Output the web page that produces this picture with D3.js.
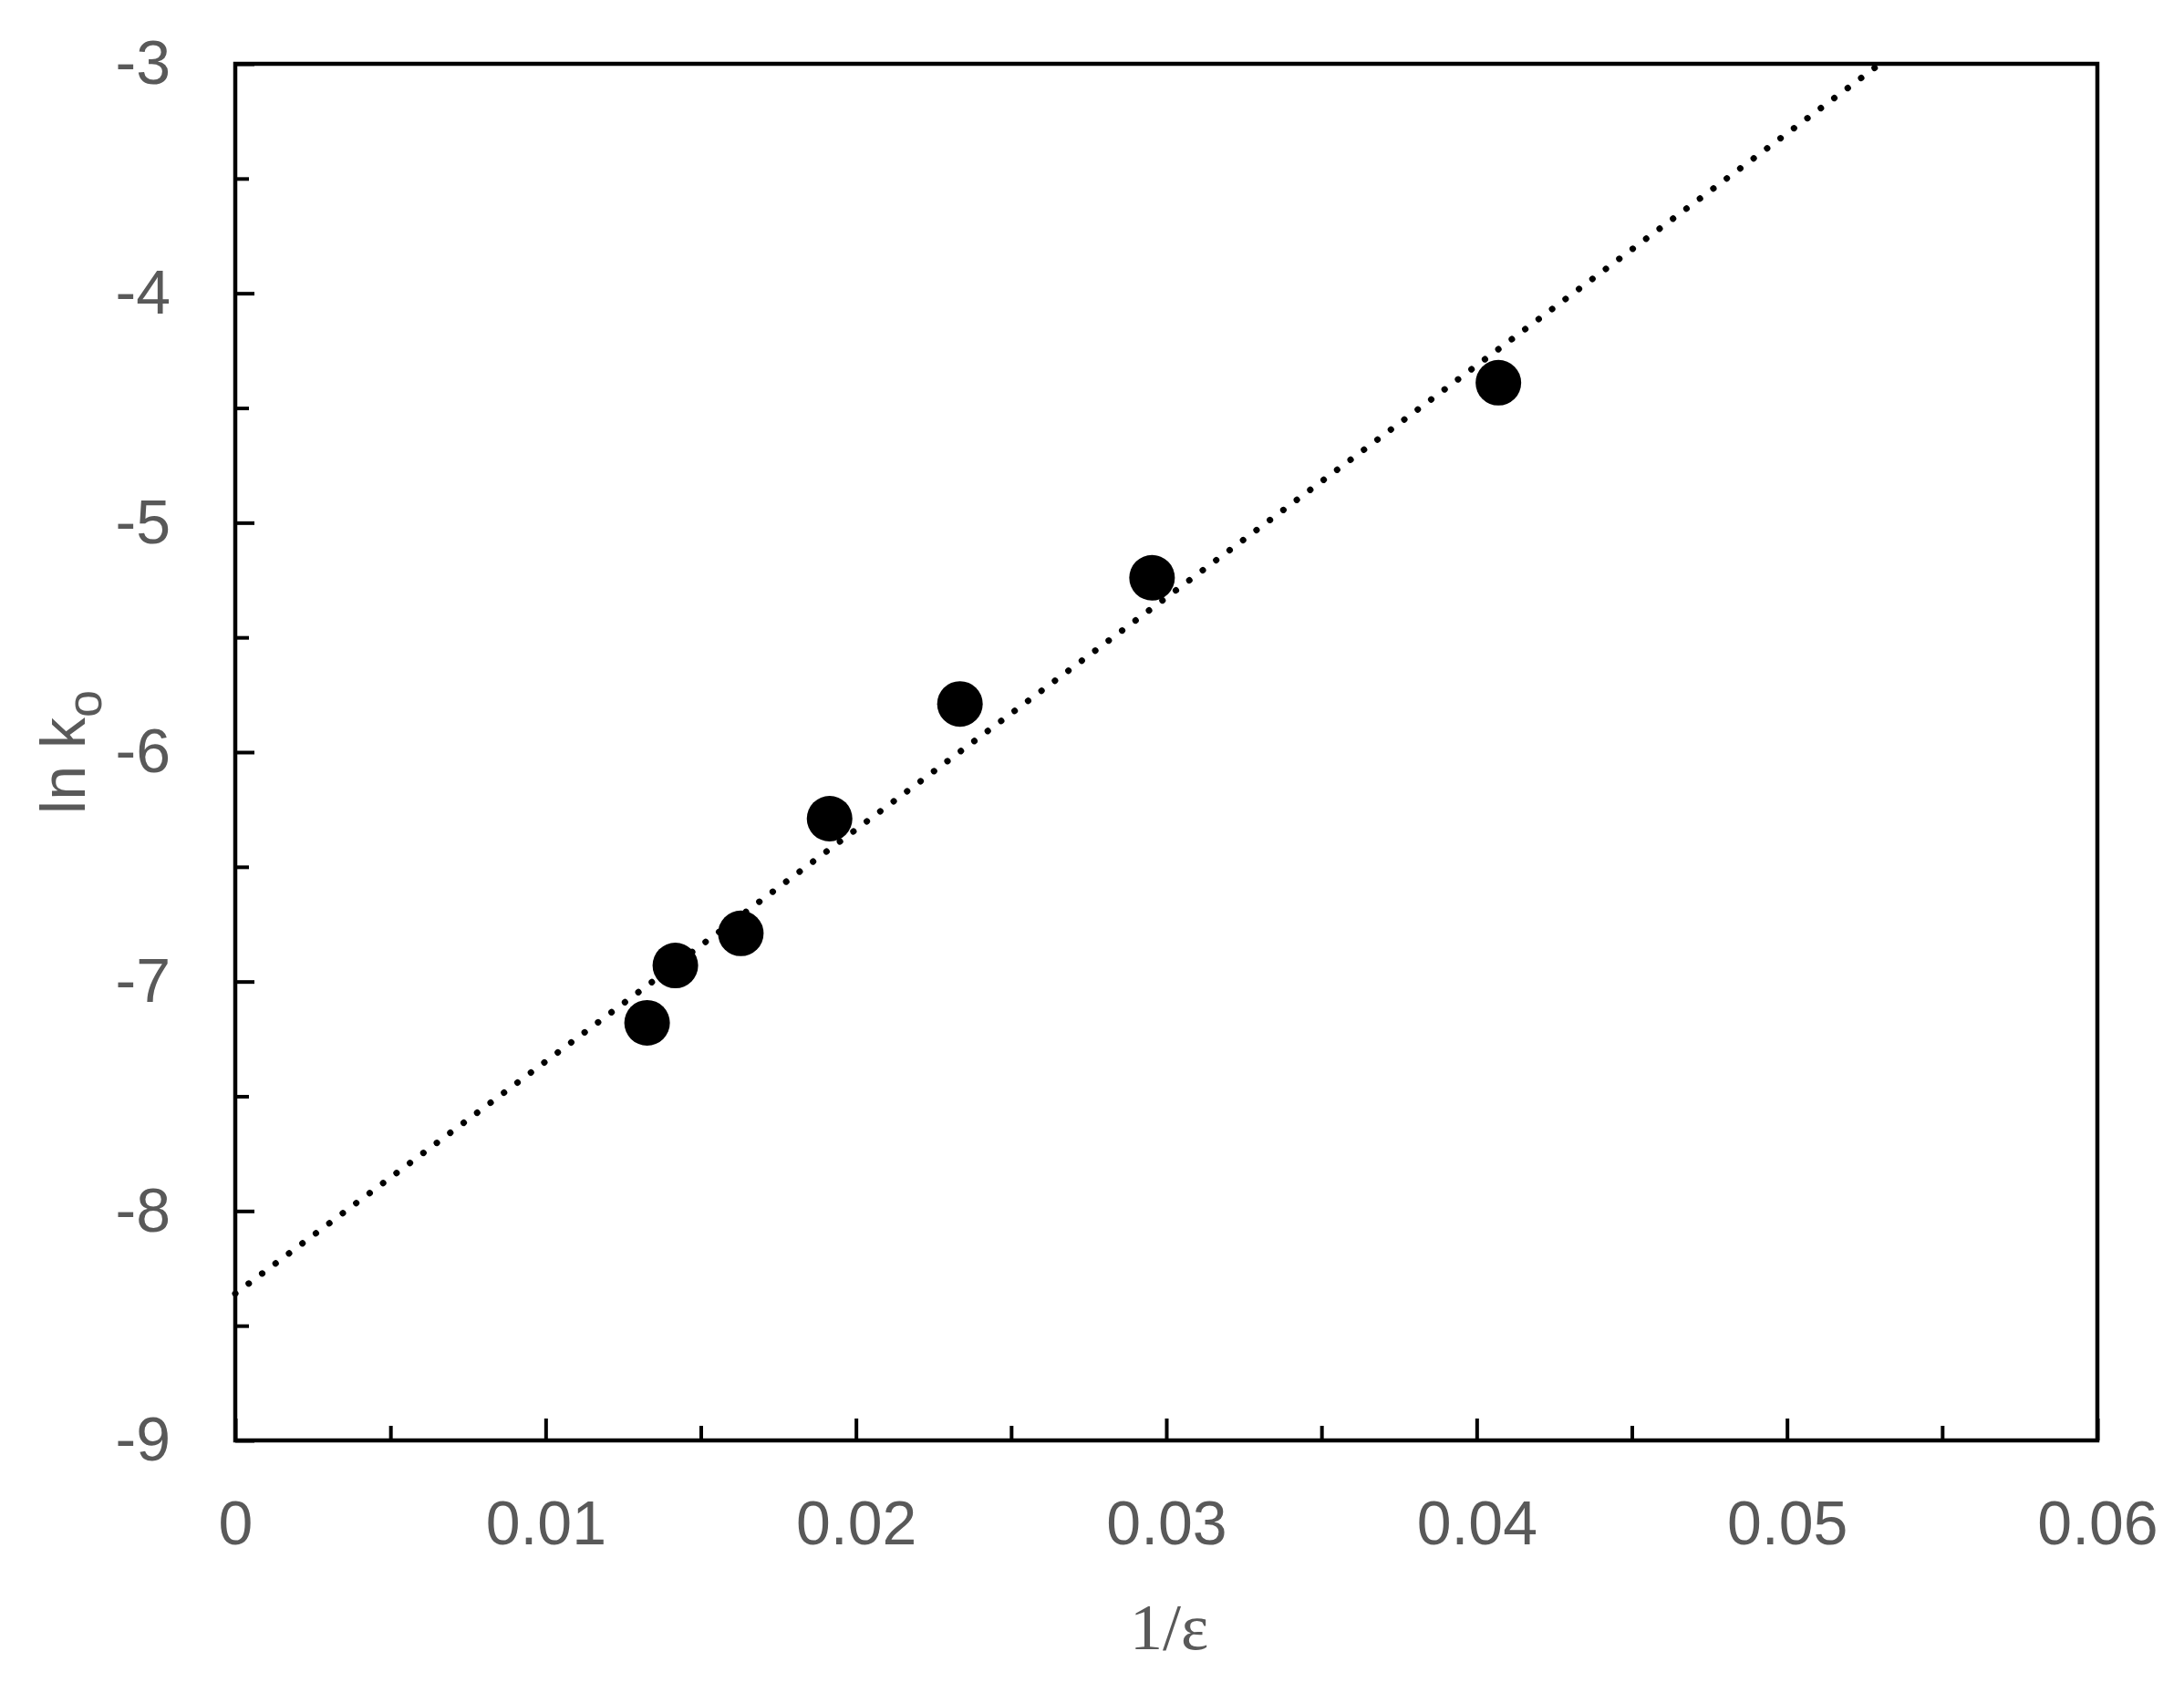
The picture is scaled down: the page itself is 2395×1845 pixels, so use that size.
<!DOCTYPE html>
<meta charset="utf-8">
<head>
<style>
  body { margin: 0; background: #fff; }
</style>
</head>
<script src="https://d3js.org/d3.v7.min.js"></script>
<body>
<div id="my_dataviz"></div>
</body>
<script>

    // measured points (1/eps, ln k0)
    var invEps = [0.01327, 0.01418, 0.01629, 0.01915, 0.02335, 0.02954, 0.04070];
    var lnK0   = [-7.18, -6.93, -6.79, -6.29, -5.79, -5.24, -4.39];

    // dotted trend line
    var trendX = [0, 0.0530];
    var trendY = [-8.36, -3];

    var xTicks = [0, 0.01, 0.02, 0.03, 0.04, 0.05, 0.06];
    var xMinor = [0.005, 0.015, 0.025, 0.035, 0.045, 0.055];
    var yTicks = [-9, -8, -7, -6, -5, -4, -3];
    var yMinor = [-8.5, -7.5, -6.5, -5.5, -4.5, -3.5];

    var W = 2395, H = 1845;
    var margin = {top: 70, right: 95, bottom: 265, left: 258};
    var labelColor = "#595959";
    var labelFont = "'Liberation Sans Narrow', 'Liberation Sans', Arial, sans-serif";

    var svg = d3.select("#my_dataviz")
      .append("svg")
        .attr("width", W)
        .attr("height", H);

    var x = d3.scaleLinear()
      .domain([0, 0.06])
      .range([margin.left, W - margin.right]);

    var y = d3.scaleLinear()
      .domain([-9, -3])
      .range([H - margin.bottom, margin.top]);

    // minor ticks first (no labels)
    svg.append("g")
      .attr("transform", "translate(0," + y(-9) + ")")
      .call(d3.axisBottom(x).tickValues(xMinor).tickFormat("").tickSizeInner(-16).tickSizeOuter(0))
      .call(g => g.select(".domain").remove())
      .selectAll("line").attr("stroke", "#000").attr("stroke-width", 4);

    svg.append("g")
      .attr("transform", "translate(" + x(0) + ",0)")
      .call(d3.axisLeft(y).tickValues(yMinor).tickFormat("").tickSizeInner(-15).tickSizeOuter(0))
      .call(g => g.select(".domain").remove())
      .selectAll("line").attr("stroke", "#000").attr("stroke-width", 4);

    // X axis
    var xAxis = svg.append("g")
      .attr("transform", "translate(0," + y(-9) + ")")
      .call(d3.axisBottom(x).tickValues(xTicks).tickFormat(d => String(d)).tickSizeInner(-24).tickSizeOuter(0).tickPadding(66));
    xAxis.select(".domain").remove();
    xAxis.selectAll("line").attr("stroke", "#000").attr("stroke-width", 4);
    xAxis.selectAll("text")
      .style("font-family", labelFont)
      .style("font-size", "68px")
      .attr("fill", labelColor);

    // Y axis
    var yAxis = svg.append("g")
      .attr("transform", "translate(" + x(0) + ",0)")
      .call(d3.axisLeft(y).tickValues(yTicks).tickFormat(d => String(d)).tickSizeInner(-21).tickSizeOuter(0).tickPadding(71));
    yAxis.select(".domain").remove();
    yAxis.selectAll("line").attr("stroke", "#000").attr("stroke-width", 4);
    yAxis.selectAll("text")
      .style("font-family", labelFont)
      .style("font-size", "68px")
      .attr("fill", labelColor);

    // plot frame
    svg.append("rect")
      .attr("x", x(0))
      .attr("y", y(-3))
      .attr("width", x(0.06) - x(0))
      .attr("height", y(-9) - y(-3))
      .attr("fill", "none")
      .attr("stroke", "#000")
      .attr("stroke-width", 4.5);

    // trend line
    svg.append("path")
      .datum(trendX.map((d, i) => [d, trendY[i]]))
      .attr("d", d3.line().x(d => x(d[0])).y(d => y(d[1])))
      .attr("fill", "none")
      .attr("stroke", "#000")
      .attr("stroke-width", 7)
      .attr("stroke-linecap", "round")
      .attr("stroke-dasharray", "0.1 18.3");

    // points
    svg.append("g")
      .selectAll("circle")
      .data(invEps.map((d, i) => [d, lnK0[i]]))
      .enter()
      .append("circle")
        .attr("cx", d => x(d[0]))
        .attr("cy", d => y(d[1]))
        .attr("r", 25)
        .attr("fill", "#000");

    // axis titles
    svg.append("text")
      .attr("x", (x(0) + x(0.06)) / 2 + 3)
      .attr("y", 1809)
      .attr("text-anchor", "middle")
      .style("font-family", "'Liberation Serif', 'Times New Roman', serif")
      .style("font-size", "72px")
      .attr("fill", labelColor)
      .text("1/ε");

    var yTitle = svg.append("text")
      .attr("transform", "translate(93," + ((y(-3) + y(-9)) / 2) + ") rotate(-90)")
      .attr("text-anchor", "middle")
      .style("font-family", labelFont)
      .style("font-size", "68px")
      .attr("fill", labelColor);
    yTitle.append("tspan").text("ln k");
    yTitle.append("tspan").attr("dy", 18).style("font-size", "54px").text("o");

</script>
